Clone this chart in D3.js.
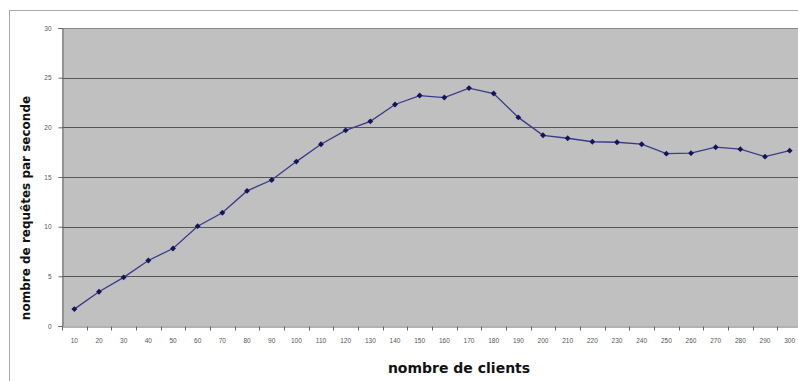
<!DOCTYPE html>
<html>
<head>
<meta charset="utf-8">
<script src="https://cdn.jsdelivr.net/npm/d3@7"></script>
<style>
  html, body { margin: 0; padding: 0; background: #fff; }
  svg { display: block; }
</style>
</head>
<body>
<svg id="chart" width="798" height="381"></svg>
<script>
// Number of clients (category axis)
const clients = [10, 20, 30, 40, 50, 60, 70, 80, 90, 100, 110, 120, 130, 140, 150,
                 160, 170, 180, 190, 200, 210, 220, 230, 240, 250, 260, 270, 280, 290, 300];
// Requests per second measured for each client count
const requestsPerSecond = [1.7, 3.45, 4.9, 6.6, 7.8, 10.05, 11.4, 13.6, 14.7, 16.55,
                           18.3, 19.7, 20.6, 22.3, 23.2, 23.0, 23.95, 23.4, 21.0, 19.2,
                           18.9, 18.55, 18.5, 18.3, 17.35, 17.4, 18.0, 17.8, 17.05, 17.65];
// Value axis ticks
const yTicks = [0, 5, 10, 15, 20, 25, 30];

const svg = d3.select("#chart");
const W = 798, H = 381;
const plot = { left: 62, top: 28, right: 802, bottom: 326 };

// Chart area frame
svg.append("rect")
  .attr("x", 9.5).attr("y", 10.5)
  .attr("width", W + 10).attr("height", H + 10)
  .attr("fill", "#fff").attr("stroke", "#a8a8a8").attr("stroke-width", 1);

const x = d3.scaleBand()
  .domain(clients)
  .range([plot.left, plot.right]);

const y = d3.scaleLinear()
  .domain([0, 30])
  .range([plot.bottom, plot.top]);

// Plot background
svg.append("rect")
  .attr("x", plot.left).attr("y", plot.top)
  .attr("width", plot.right - plot.left).attr("height", plot.bottom - plot.top)
  .attr("fill", "#c0c0c0");

// Horizontal gridlines
svg.append("g")
  .selectAll("line")
  .data(yTicks.filter(d => d > 0 && d < 30))
  .join("line")
  .attr("x1", plot.left).attr("x2", plot.right)
  .attr("y1", d => Math.round(y(d)) + 0.5).attr("y2", d => Math.round(y(d)) + 0.5)
  .attr("stroke", "#555").attr("stroke-width", 1.2);

// Top edge of plot area
svg.append("line")
  .attr("x1", plot.left).attr("x2", plot.right)
  .attr("y1", plot.top + 0.5).attr("y2", plot.top + 0.5)
  .attr("stroke", "#888");

// Y axis
const yAxis = d3.axisLeft(y)
  .tickValues(yTicks)
  .tickSize(4)
  .tickPadding(7);
const gy = svg.append("g")
  .attr("transform", `translate(${plot.left + 0.5},0)`)
  .call(yAxis);
gy.select(".domain").attr("stroke", "#666");
gy.selectAll(".tick line").attr("stroke", "#666");
gy.selectAll(".tick text")
  .attr("font-family", "Liberation Sans, Arial, sans-serif")
  .attr("font-size", 6.5).attr("fill", "#555");

// X axis: labels at band centres, ticks at band boundaries
const gx = svg.append("g")
  .attr("transform", `translate(0,${plot.bottom + 0.5})`)
  .call(d3.axisBottom(x).tickSize(0).tickPadding(12));
gx.select(".domain").attr("stroke", "#666");
gx.selectAll(".tick text")
  .attr("font-family", "Liberation Sans, Arial, sans-serif")
  .attr("font-size", 6.5).attr("fill", "#555");
gx.selectAll(".boundary")
  .data(clients)
  .join("line")
  .attr("class", "boundary")
  .attr("x1", d => Math.round(x(d)) + 0.5).attr("x2", d => Math.round(x(d)) + 0.5)
  .attr("y1", 0).attr("y2", 4)
  .attr("stroke", "#666");

// Series line
const line = d3.line()
  .x((d, i) => x(clients[i]) + x.bandwidth() / 2)
  .y(d => y(d));

svg.append("path")
  .datum(requestsPerSecond)
  .attr("fill", "none")
  .attr("stroke", "#3a3a8c")
  .attr("stroke-width", 1.3)
  .attr("d", line);

// Diamond markers
svg.append("g")
  .selectAll("path")
  .data(requestsPerSecond)
  .join("path")
  .attr("transform", (d, i) => `translate(${x(clients[i]) + x.bandwidth() / 2},${y(d)})`)
  .attr("d", d3.symbol(d3.symbolDiamond2, 22))
  .attr("fill", "#14145a");

// Axis titles
svg.append("text")
  .attr("x", 459).attr("y", 373)
  .attr("text-anchor", "middle")
  .attr("font-family", "DejaVu Sans, Verdana, sans-serif")
  .attr("font-weight", "bold").attr("font-size", 14)
  .attr("fill", "#111")
  .text("nombre de clients");

svg.append("text")
  .attr("transform", "translate(30,208) rotate(-90)")
  .attr("text-anchor", "middle")
  .attr("font-family", "DejaVu Sans, Verdana, sans-serif")
  .attr("font-weight", "bold").attr("font-size", 12)
  .attr("fill", "#111")
  .text("nombre de requêtes par seconde");
</script>
</body>
</html>
